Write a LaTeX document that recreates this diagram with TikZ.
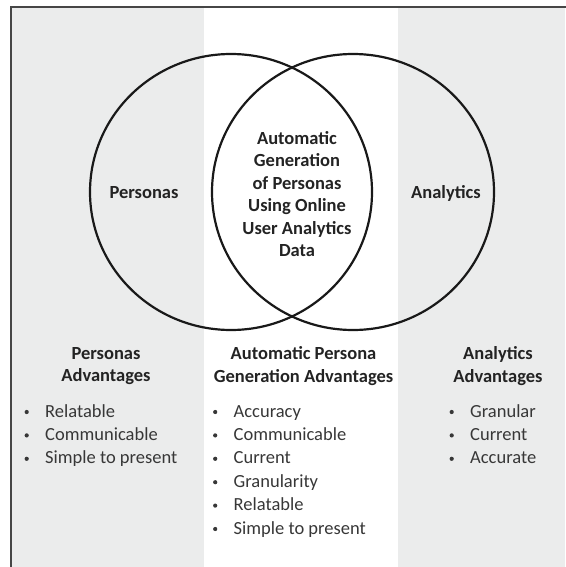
\documentclass[tikz,border=0pt]{standalone}
\usepackage{fontspec}
\setmainfont{Carlito}
\usetikzlibrary{positioning,shapes.geometric}

\definecolor{panelgray}{RGB}{235,236,236}
\definecolor{framegray}{RGB}{70,70,70}
\definecolor{headtext}{RGB}{35,35,35}
\definecolor{itemtext}{RGB}{55,55,55}

\begin{document}
\begin{tikzpicture}
  [x=1pt, y=-1pt,
   set/.style={ellipse, draw=black!90, line width=2.2pt, minimum width=282pt, minimum height=276pt, inner sep=0pt},
   heading/.style={font=\fontsize{18.5}{22.5}\selectfont\bfseries, text=headtext, align=center, inner sep=0pt},
   item/.style={font=\fontsize{18.5}{23.4}\selectfont, text=itemtext, anchor=base west, inner sep=0pt},
   dot/.style={circle, fill=itemtext, minimum size=4.2pt, inner sep=0pt, yshift=5pt}]
  \useasboundingbox (0,0) rectangle (565,567);

  % background columns and frame
  \fill[panelgray] (11,7) rectangle (204,567);
  \fill[panelgray] (398,7) rectangle (565,567);
  \draw[framegray, line width=1.4pt] (11,575) |- (575,7);

  % the two sets
  \node[set] (pset) at (231,192) {};
  \node[set] (aset) at (353,192) {};
  \node[heading] (plabel) at (144,193) {Personas};
  \node[heading] (alabel) at (446,193) {Analytics};
  \node[heading] (both) at (297,194)
    {Automatic\\Generation\\of Personas\\Using Online\\User Analytics\\Data};

  % column headings
  \node[heading] (phead) at (106,366) {Personas\\Advantages};
  \node[heading] (bhead) at (303.5,366) {Automatic Persona\\Generation Advantages};
  \node[heading] (ahead) at (498,366) {Analytics\\Advantages};

  % advantage lists
  \foreach \txt [count=\i] in {Relatable, Communicable, Simple to present} {
    \node[item] (pitem-\i) at (45,393.6+23.4*\i) {\txt};
    \node[dot, left=16pt of pitem-\i.base west] (pdot-\i) {};
  }
  \foreach \txt [count=\i] in {Accuracy, Communicable, Current, Granularity, Relatable, Simple to present} {
    \node[item] (bitem-\i) at (233.5,393.6+23.4*\i) {\txt};
    \node[dot, left=16pt of bitem-\i.base west] (bdot-\i) {};
  }
  \foreach \txt [count=\i] in {Granular, Current, Accurate} {
    \node[item] (aitem-\i) at (470,393.6+23.4*\i) {\txt};
    \node[dot, left=16pt of aitem-\i.base west] (adot-\i) {};
  }
\end{tikzpicture}
\end{document}
